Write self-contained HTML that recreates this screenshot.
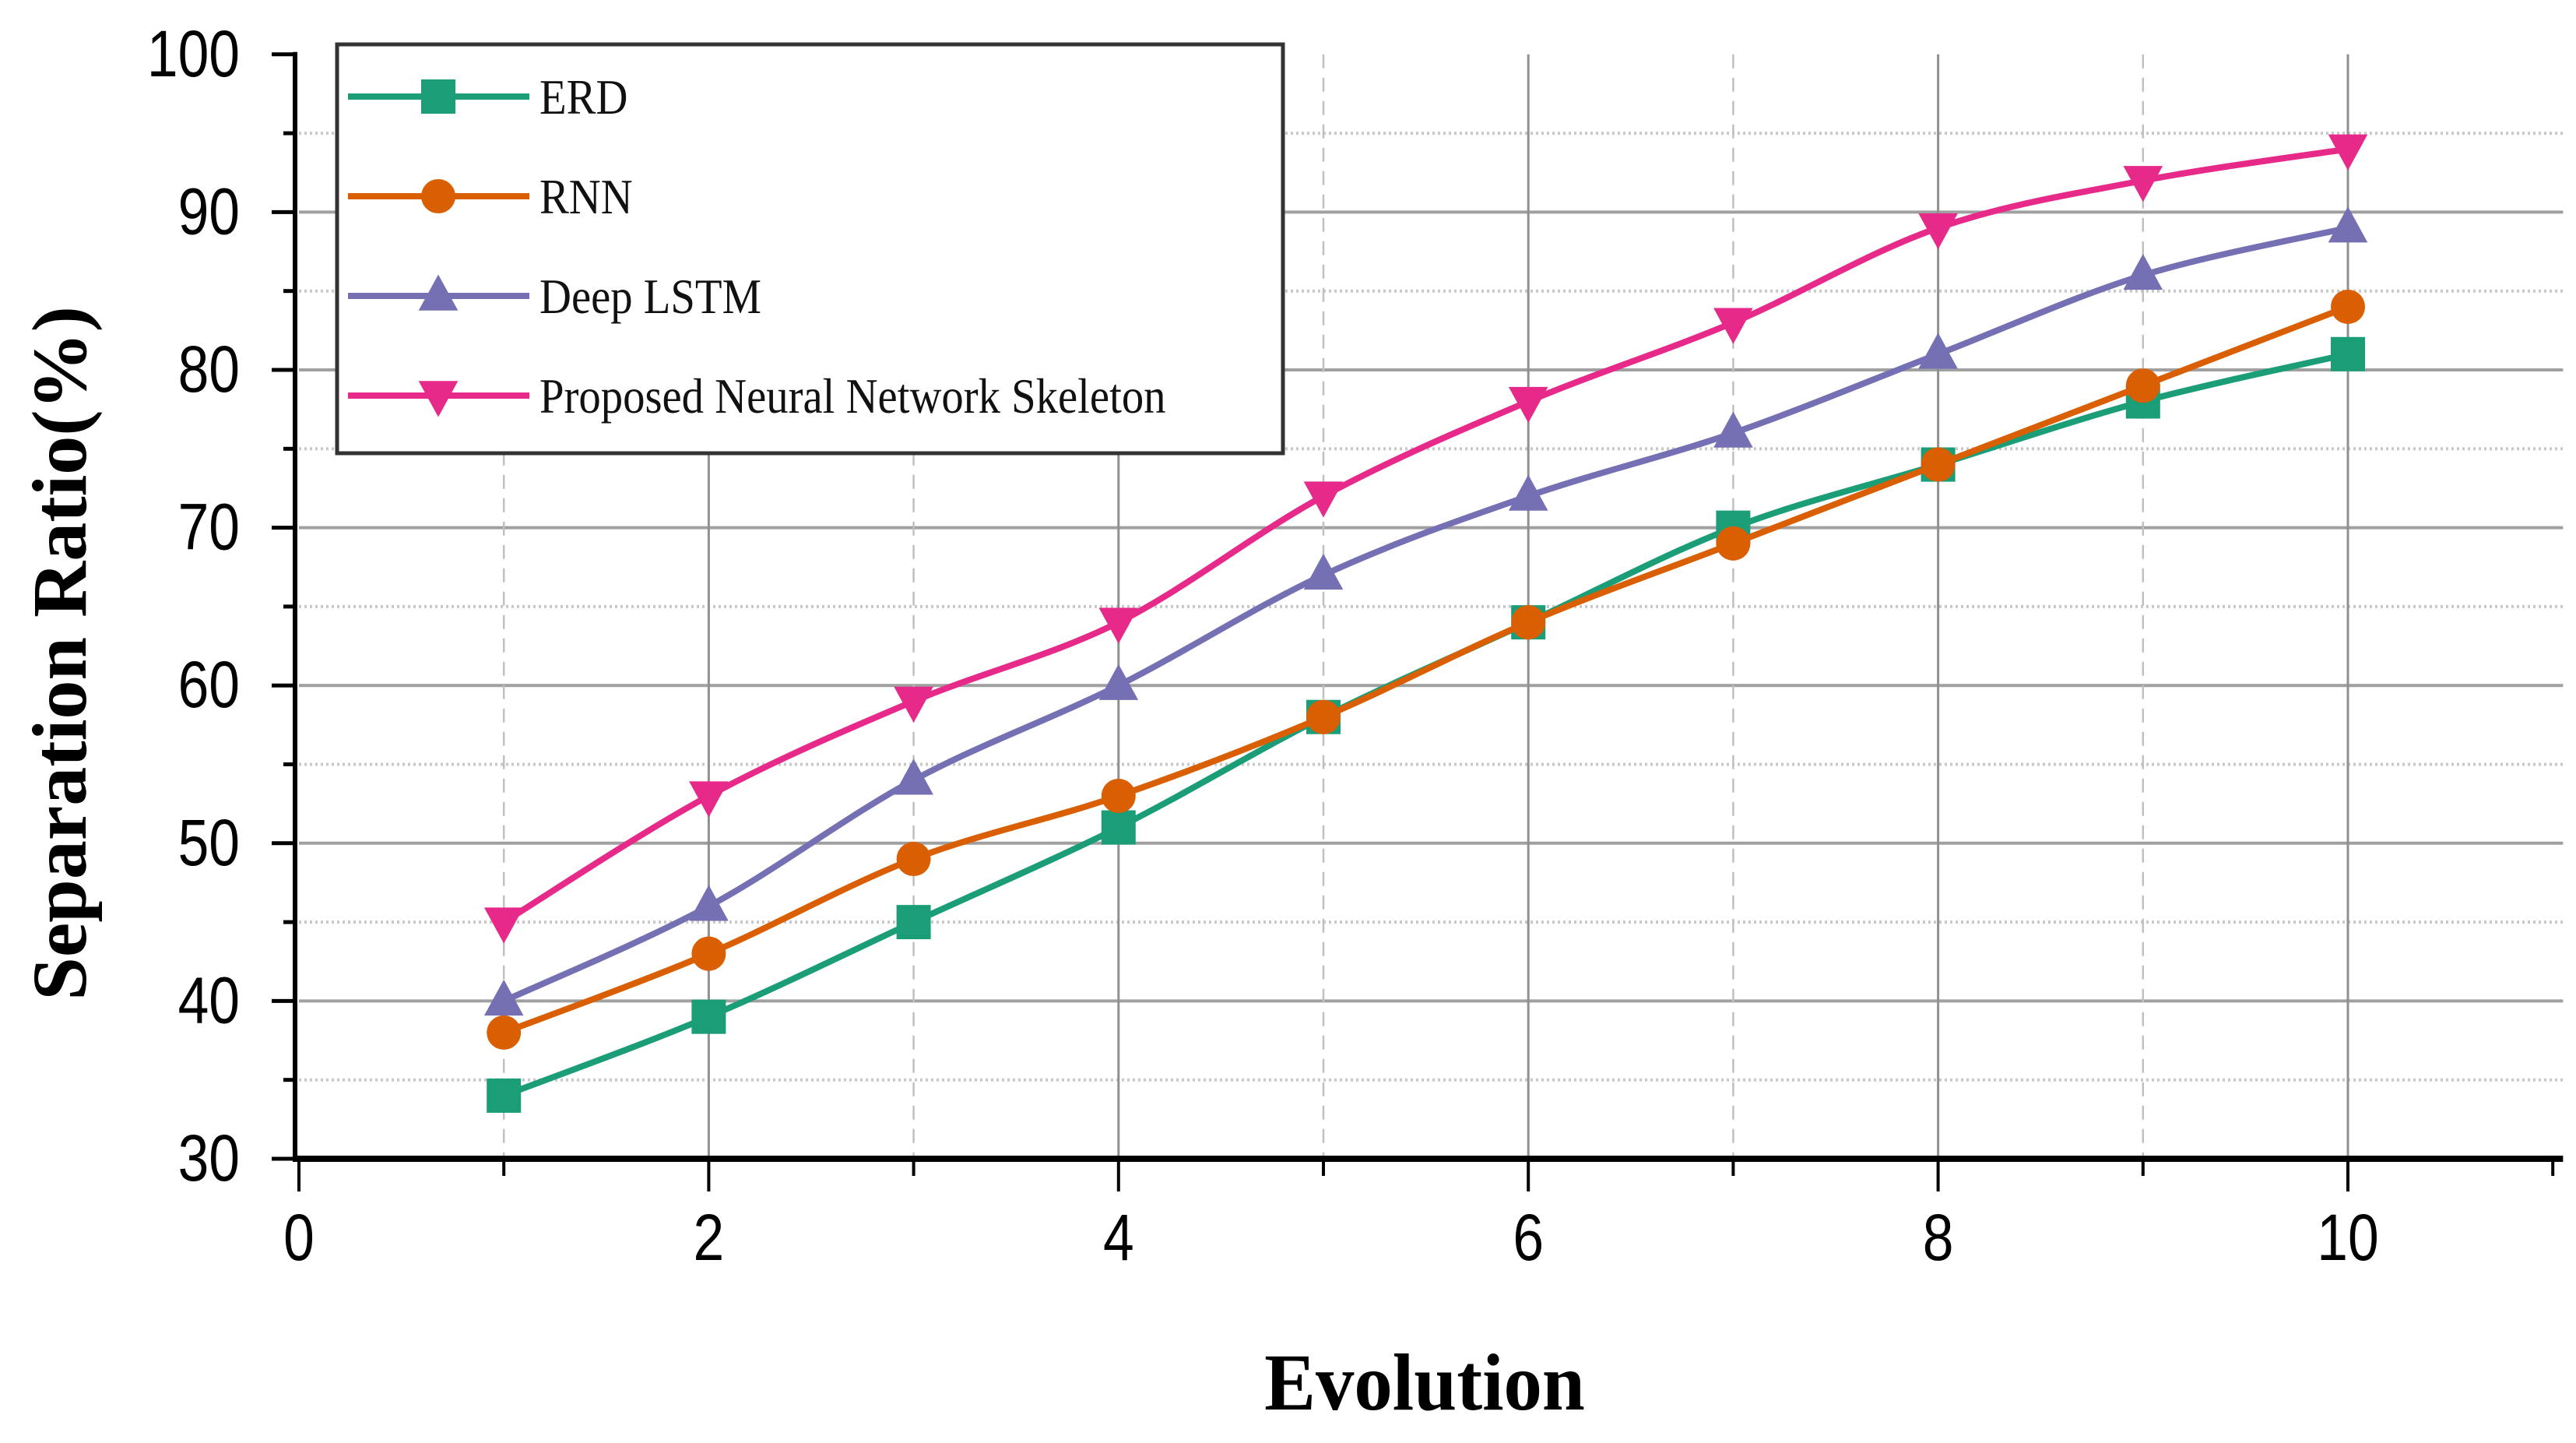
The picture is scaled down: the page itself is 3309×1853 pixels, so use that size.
<!DOCTYPE html>
<html><head><meta charset="utf-8"><style>
html,body{margin:0;padding:0;background:#fff;}
svg{display:block;}
</style></head><body>
<svg id="chart" width="3309" height="1853" viewBox="0 0 3309 1853" xmlns="http://www.w3.org/2000/svg">
<g id="grid"></g>
<g id="series"></g>
<g id="axes"></g>
<g id="legend"></g>
</svg>
<script>
const xValues = [1,2,3,4,5,6,7,8,9,10];
const erdValues = [34,39,45,51,58,64,70,74,78,81];
const rnnValues = [38,43,49,53,58,64,69,74,79,84];
const lstmValues = [40,46,54,60,67,72,76,81,86,89];
const proposedValues = [45,53,59,64,72,78,83,89,92,94];
const seriesNames = ["ERD","RNN","Deep LSTM","Proposed Neural Network Skeleton"];
const xTickLabels = ["0","2","4","6","8","10"];
const yTickLabels = ["30","40","50","60","70","80","90","100"];

const NS="http://www.w3.org/2000/svg";
const X0=384, XS=263.2, Y0=1488, YS=20.26;
const sx=v=>X0+v*XS;
const sy=v=>Y0-(v-30)*YS;
function mk(tag,attrs,parent){const e=document.createElementNS(NS,tag);for(const k in attrs)e.setAttribute(k,attrs[k]);parent.appendChild(e);return e;}
const grid=document.getElementById('grid'),axes=document.getElementById('axes'),ser=document.getElementById('series'),leg=document.getElementById('legend');
const xEnd=sx(11.05), yTop=sy(100);

for(let v=35;v<=95;v+=5){
  const major=v%10===0;
  const l=mk('line',{x1:X0,x2:xEnd,y1:sy(v),y2:sy(v),stroke:major?'#a0a0a0':'#c8c8c8','stroke-width':4,'stroke-dasharray':major?'none':'3 4'},grid);
  
  
}
for(let v=1;v<=10;v++){
  const major=v%2===0;
  const l=mk('line',{x1:sx(v),x2:sx(v),y1:yTop,y2:Y0,stroke:major?'#909090':'#c0c0c0','stroke-width':major?3:2.5,'stroke-dasharray':major?'none':'18 12'},grid);
  
  
}

let a=mk('line',{x1:X0-5,x2:X0-5,y1:sy(100)-3,y2:Y0+3,stroke:'#000','stroke-width':6},axes);

a=mk('line',{x1:X0-8,x2:xEnd,y1:Y0,y2:Y0,stroke:'#000','stroke-width':8},axes);


for(let v=30;v<=100;v+=5){
  const major=v%10===0;
  const t=mk('line',{x1:X0-5-(major?30:15),x2:X0-5,y1:sy(v),y2:sy(v),stroke:'#000','stroke-width':5},axes);
  
}
yTickLabels.forEach(s=>{
  const v=+s;
  const t=mk('text',{x:0,y:0,transform:`translate(308,${sy(v)+28}) scale(0.85,1)`,'text-anchor':'end','font-family':'Liberation Sans, sans-serif','font-size':84,fill:'#000'},axes);
  t.textContent=s;
  
});
for(let v=0;v<=11;v++){
  const major=v%2===0;
  const t=mk('line',{x1:sx(v),x2:sx(v),y1:Y0,y2:Y0+(major?42:22),stroke:'#000','stroke-width':4},axes);
  
}
xTickLabels.forEach(s=>{
  const v=+s;
  const t=mk('text',{x:0,y:0,transform:`translate(${sx(v)},${Y0+130}) scale(0.85,1)`,'text-anchor':'middle','font-family':'Liberation Sans, sans-serif','font-size':84,fill:'#000'},axes);
  t.textContent=s;
  
});
let tt=mk('text',{x:0,y:0,transform:`translate(1830,1810) scale(0.95,1)`,'text-anchor':'middle','font-family':'Liberation Serif, serif','font-weight':'bold','font-size':104,fill:'#000'},axes);
tt.textContent='Evolution';

tt=mk('text',{x:0,y:0,transform:`translate(110,${(yTop+Y0)/2+60}) rotate(-90)`,'text-anchor':'middle','font-family':'Liberation Serif, serif','font-weight':'bold','font-size':100,fill:'#000'},axes);
tt.textContent='Separation Ratio(%)';


const colors=['#1b9e77','#d95f02','#7570b3','#e7298a'];
const allSeries=[erdValues,rnnValues,lstmValues,proposedValues];
const keys=['erd','rnn','deep-lstm','proposed'];
function smoothPath(pts){
  let d=`M${pts[0][0]},${pts[0][1]}`;
  for(let i=0;i<pts.length-1;i++){
    const p0=pts[Math.max(0,i-1)],p1=pts[i],p2=pts[i+1],p3=pts[Math.min(pts.length-1,i+2)];
    const c1=[p1[0]+(p2[0]-p0[0])/6,p1[1]+(p2[1]-p0[1])/6];
    const c2=[p2[0]-(p3[0]-p1[0])/6,p2[1]-(p3[1]-p1[1])/6];
    d+=` C${c1[0]},${c1[1]} ${c2[0]},${c2[1]} ${p2[0]},${p2[1]}`;
  }
  return d;
}
function marker(kind,x,y,c,parent){
  const r=22;
  let m;
  if(kind===0) m=mk('rect',{x:x-r,y:y-r,width:2*r,height:2*r,fill:c},parent);
  else if(kind===1) m=mk('circle',{cx:x,cy:y,r:r,fill:c},parent);
  else if(kind===2) m=mk('polygon',{points:`${x},${y-r*1.25} ${x-r*1.15},${y+r*0.85} ${x+r*1.15},${y+r*0.85}`,fill:c},parent);
  else m=mk('polygon',{points:`${x},${y+r*1.25} ${x-r*1.15},${y-r*0.85} ${x+r*1.15},${y-r*0.85}`,fill:c},parent);
  return m;
}
allSeries.forEach((vals,k)=>{
  const g=mk('g',{},ser);
  
  const pts=xValues.map((x,i)=>[sx(x),sy(vals[i])]);
  const p=mk('path',{d:smoothPath(pts),fill:'none',stroke:colors[k],'stroke-width':8},g);
  
  pts.forEach(pt=>{
    const m=marker(k,pt[0],pt[1],colors[k],g);
    
  });
});

const box=mk('rect',{x:433,y:57,width:1215,height:525,fill:'#fff',stroke:'#333','stroke-width':5},leg);

seriesNames.forEach((n,k)=>{
  const y=57+67+k*128;
  const g=mk('g',{},leg);
  
  const l=mk('line',{x1:447,x2:680,y1:y,y2:y,stroke:colors[k],'stroke-width':8},g);
  
  const m=marker(k,563,y,colors[k],g);
  
  const t=mk('text',{x:0,y:0,transform:`translate(693,${y+22}) scale(0.9,1)`,'font-family':'Liberation Serif, serif','font-size':63,fill:'#111'},g);
  t.textContent=n;
  
});
</script>
</body></html>
